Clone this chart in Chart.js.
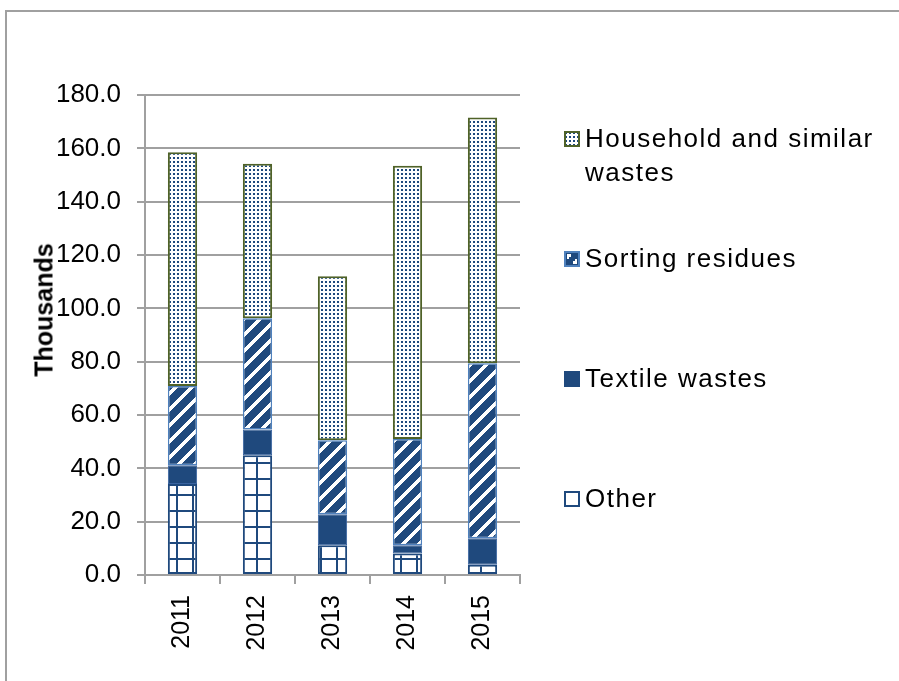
<!DOCTYPE html>
<html>
<head>
<meta charset="utf-8">
<script src="https://cdn.jsdelivr.net/npm/chart.js@4.4.1/dist/chart.umd.min.js"></script>
<style>
  html, body { margin: 0; padding: 0; background: #fff; width: 899px; height: 681px; overflow: hidden; }
  #frame { position: absolute; left: 5px; top: 10px; width: 1000px; height: 1000px; border-left: 2px solid #a0a0a0; border-top: 2px solid #a0a0a0; box-sizing: border-box; }
  #c { position: absolute; left: 0; top: 0; }
  #ytitle { position: absolute; left: 44px; top: 310px; transform: translate(-50%, -50%) rotate(-90deg);
            font: bold 25px "Liberation Sans", Arial, sans-serif; color: #000; white-space: nowrap; }
  .leg { position: absolute; left: 585px; font: 26px "Liberation Sans", Arial, sans-serif; letter-spacing: 1.5px;
         line-height: 34px; color: #000; white-space: nowrap; }
  .sw { position: absolute; left: 564px; width: 16px; height: 16px; }
</style>
</head>
<body>
<div id="frame"></div>
<canvas id="c" width="899" height="681"></canvas>
<div id="ytitle">Thousands</div>
<div id="legend"></div>
<script>
const years = ["2011", "2012", "2013", "2014", "2015"];
const other = [34.1, 44.9, 11.2, 8.1, 3.8];
const textile = [7.1, 9.7, 11.6, 3.1, 10.0];
const sorting = [29.7, 41.7, 27.7, 39.8, 65.6];
const household = [87.6, 57.9, 61.5, 102.5, 92.2];
const seriesNames = ["Household and similar wastes", "Sorting residues", "Textile wastes", "Other"];
const yTicks = { min: 0, max: 180, step: 20 };

const DARK = "#1F497D";
const LIGHT = "#4F81BD";
const OLIVE = "#4F6228";

function makeTile(size, painter) {
  const cv = document.createElement("canvas");
  cv.width = size; cv.height = size;
  const g = cv.getContext("2d");
  painter(g, size);
  return cv;
}
const dotTile = makeTile(4, (g) => { g.fillStyle = "#fff"; g.fillRect(0,0,4,4); g.fillStyle = DARK; g.fillRect(1,1,2,2); });
const stripeTile = makeTile(16, (g, s) => {
  g.fillStyle = DARK; g.fillRect(0,0,s,s);
  g.fillStyle = "#fff";
  for (let x = 0; x < s; x++) for (let y = 0; y < s; y++) if (((x + y) % 16) < 5) g.fillRect(x, y, 1, 1);
});
const gridTile = makeTile(16, (g, s) => {
  g.fillStyle = "#fff"; g.fillRect(0,0,s,s);
  g.fillStyle = DARK; g.fillRect(0,0,2,s); g.fillRect(0,14,s,2);
});

const ctx = document.getElementById("c").getContext("2d");
const pDot = ctx.createPattern(dotTile, "repeat");
const pStripe = ctx.createPattern(stripeTile, "repeat");
const pGrid = ctx.createPattern(gridTile, "repeat");

const common = { borderSkipped: false, categoryPercentage: 1.0, barPercentage: 0.39 };
new Chart(ctx, {
  type: "bar",
  data: {
    labels: years,
    datasets: [
      Object.assign({ label: seriesNames[3], data: other, backgroundColor: pGrid, borderColor: DARK, borderWidth: 2 }, common),
      Object.assign({ label: seriesNames[2], data: textile, backgroundColor: DARK, borderColor: "#3a64a0", borderWidth: 1 }, common),
      Object.assign({ label: seriesNames[1], data: sorting, backgroundColor: pStripe, borderColor: LIGHT, borderWidth: 1.5 }, common),
      Object.assign({ label: seriesNames[0], data: household, backgroundColor: pDot, borderColor: OLIVE, borderWidth: 2 }, common)
    ]
  },
  options: {
    responsive: false,
    animation: false,
    devicePixelRatio: 1,
    layout: { padding: { top: 95, right: 379, bottom: 0, left: 0 } },
    plugins: { legend: { display: false }, tooltip: { enabled: false } },
    scales: {
      x: {
        stacked: true,
        offset: true,
        grid: { display: true, drawOnChartArea: false, drawTicks: true, tickLength: 9, offset: true, color: "#a0a0a0", lineWidth: 2 },
        border: { display: true, color: "#a0a0a0", width: 2 },
        ticks: { color: "#000", font: { family: "'Liberation Sans', Arial, sans-serif", size: 25 }, minRotation: 90, maxRotation: 90, padding: 11 },
        afterFit: (s) => { s.height = 106; }
      },
      y: {
        stacked: true,
        min: yTicks.min, max: yTicks.max,
        grid: { color: "#a0a0a0", lineWidth: 2, tickLength: 8, drawTicks: true },
        border: { display: true, color: "#a0a0a0", width: 2 },
        ticks: { stepSize: yTicks.step, color: "#000", padding: 16,
                 font: { family: "'Liberation Sans', Arial, sans-serif", size: 26 },
                 callback: (v) => Number(v).toFixed(1) },
        afterFit: (s) => { s.width = 145; }
      }
    }
  }
});

// HTML legend
const legendItems = [
  { text: ["Household and similar", "wastes"], top: 121, kind: "dot" },
  { text: ["Sorting residues"], top: 241, kind: "stripe" },
  { text: ["Textile wastes"], top: 361, kind: "solid" },
  { text: ["Other"], top: 481, kind: "other" }
];
const legend = document.getElementById("legend");
legendItems.forEach((it) => {
  const d = document.createElement("div");
  d.className = "leg"; d.style.top = it.top + "px";
  d.innerHTML = it.text.join("<br>");
  legend.appendChild(d);
  const sw = document.createElement("canvas");
  sw.width = 16; sw.height = 16; sw.className = "sw";
  sw.style.top = (it.top + 10) + "px";
  const g = sw.getContext("2d");
  if (it.kind === "dot") {
    g.fillStyle = g.createPattern(dotTile, "repeat"); g.fillRect(0,0,16,16);
    g.strokeStyle = OLIVE; g.lineWidth = 2; g.strokeRect(1,1,14,14);
  } else if (it.kind === "stripe") {
    g.fillStyle = DARK; g.fillRect(0,0,16,16);
    g.fillStyle = "#fff"; g.fillRect(3,3,4,3); g.fillRect(3,6,2,2); g.fillRect(9,10,4,3); g.fillRect(11,8,2,2);
    g.strokeStyle = LIGHT; g.lineWidth = 2; g.strokeRect(1,1,14,14);
  } else if (it.kind === "solid") {
    g.fillStyle = DARK; g.fillRect(0,0,16,16);
  } else {
    g.fillStyle = "#fff"; g.fillRect(0,0,16,16);
    g.strokeStyle = DARK; g.lineWidth = 2; g.strokeRect(1,1,14,14);
  }
  legend.appendChild(sw);
});
</script>
</body>
</html>
